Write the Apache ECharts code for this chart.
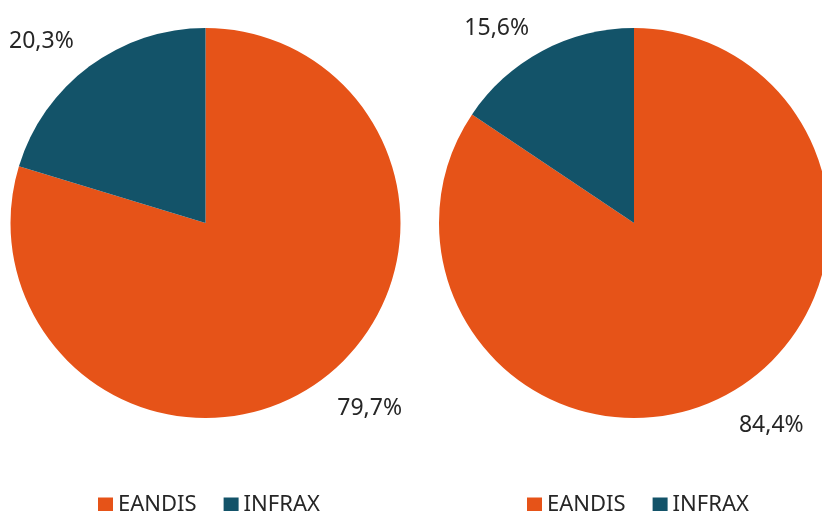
<!DOCTYPE html>
<html>
<head>
<meta charset="utf-8">
<script src="https://cdn.jsdelivr.net/npm/echarts@6/dist/echarts.min.js"></script>
<style>
  html, body { margin: 0; padding: 0; background: #fff; }
  #chart { width: 822px; height: 511px; }
</style>
</head>
<body>
<div id="chart"></div>
<script>
var categories = ['EANDIS', 'INFRAX'];
var leftValues = [79.7, 20.3];
var rightValues = [84.4, 15.6];
var colors = ['#E65318', '#135369'];

var myChart = echarts.init(document.getElementById('chart'));

function pieData(values) {
    return values.map(function (v, i) {
        return { name: categories[i], value: v };
    });
}

function pieSeries(values, center, lineLen, dist, shiftY) {
    return {
        type: 'pie',
        center: center,
        radius: 195,
        startAngle: 90,
        clockwise: true,
        avoidLabelOverlap: false,
        silent: true,
        data: pieData(values),
        label: {
            show: true,
            position: 'outside',
            formatter: function (p) {
                return p.value.toFixed(1).replace('.', ',') + '%';
            },
            fontFamily: 'Noto Sans',
            fontSize: 23,
            color: '#262626',
            distanceToLabelLine: dist
        },
        labelLine: { show: false, length: lineLen, length2: 0 },
        labelLayout: { dy: shiftY }
    };
}

function legend(left) {
    return {
        data: categories,
        left: left,
        top: 489,
        orient: 'horizontal',
        icon: 'rect',
        itemWidth: 15,
        itemHeight: 15,
        itemGap: 27,
        selectedMode: false,
        textStyle: { fontFamily: 'Noto Sans', fontSize: 22, color: '#262626' }
    };
}

myChart.setOption({
    color: colors,
    animation: false,
    legend: [legend(93), legend(522)],
    series: [
        pieSeries(leftValues, [205.5, 223], 33, -4, 2),
        pieSeries(rightValues, [634, 223], 30, -1, 4)
    ]
});
</script>
</body>
</html>
